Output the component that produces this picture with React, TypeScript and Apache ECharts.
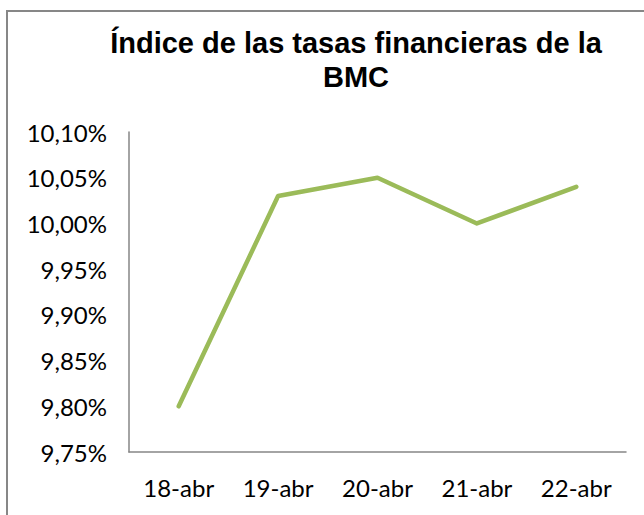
import React, { useEffect, useRef } from "react";
import * as echarts from "echarts";

const categories = ["18-abr", "19-abr", "20-abr", "21-abr", "22-abr"];
const values = [9.8, 10.03, 10.05, 10.0, 10.04];
const titleText = "Índice de las tasas financieras de la\nBMC";

export default function App() {
  const ref = useRef<HTMLDivElement>(null);
  useEffect(() => {
    if (!ref.current) return;
    const chart = echarts.init(ref.current, null, { renderer: "svg" });
    chart.setOption({
      animation: false,
      backgroundColor: "#fff",
      title: {
        text: titleText,
        left: 351,
        textAlign: "center",
        top: 21,
        textStyle: {
          fontFamily: "Liberation Sans, Arial, sans-serif",
          fontWeight: "bold",
          fontSize: 29,
          lineHeight: 34,
          color: "#000",
        },
      },
      graphic: [
        {
          type: "rect",
          shape: { x: 7, y: 11, width: 800, height: 700 },
          style: { fill: "none", stroke: "#878787", lineWidth: 2 },
          silent: true,
        },
      ],
      grid: { left: 129, right: 18, top: 132, bottom: 63, containLabel: false },
      xAxis: {
        type: "category",
        data: categories,
        boundaryGap: true,
        axisLine: { show: true, lineStyle: { color: "#868686", width: 1.5 } },
        axisTick: { show: false },
        axisLabel: {
          margin: 23,
          fontFamily: "Lato, Carlito, sans-serif",
          fontSize: 24,
          color: "#000",
        },
        splitLine: { show: false },
      },
      yAxis: {
        type: "value",
        min: 9.75,
        max: 10.1,
        interval: 0.05,
        axisLine: { show: true, lineStyle: { color: "#868686", width: 1.5 } },
        axisTick: { show: false },
        splitLine: { show: false },
        axisLabel: {
          margin: 22,
          fontFamily: "Lato, Carlito, sans-serif",
          fontSize: 24,
          color: "#000",
          formatter: (v: number) => v.toFixed(2).replace(".", ",") + "%",
        },
      },
      series: [
        {
          type: "line",
          data: values,
          symbol: "none",
          lineStyle: { color: "#9BBB59", width: 4.5, cap: "round", join: "round" },
        },
      ],
    });
    return () => chart.dispose();
  }, []);
  return (
    <div
      ref={ref}
      style={{ position: "fixed", left: 0, top: 0, width: 644, height: 515 }}
    />
  );
}
